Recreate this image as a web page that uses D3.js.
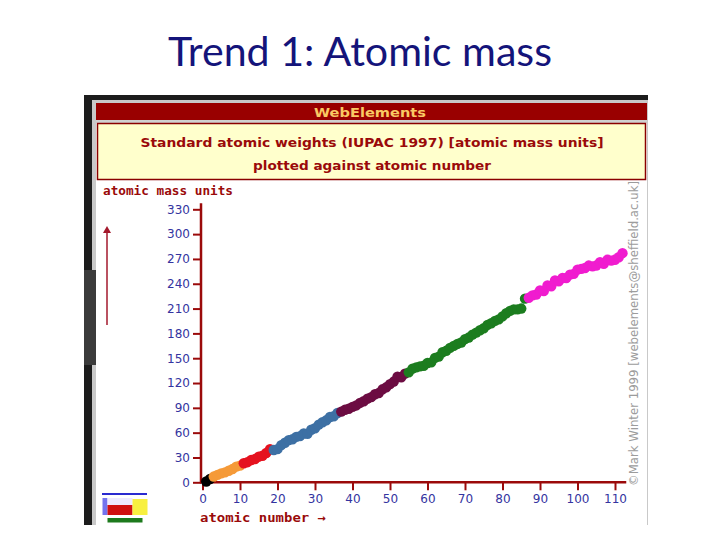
<!DOCTYPE html>
<html>
<head>
<meta charset="utf-8">
<script src="https://cdn.jsdelivr.net/npm/d3@7/dist/d3.min.js"></script>
<style>
  html, body { margin: 0; padding: 0; background: #ffffff; }
  svg { display: block; }
</style>
</head>
<body>
<svg id="chart" width="720" height="540"></svg>
<script>
// ---- Data ----
const slideTitle = "Trend 1: Atomic mass";
const headerText = "WebElements";
const subtitleLines = ["Standard atomic weights (IUPAC 1997) [atomic mass units]", "plotted against atomic number"];
const yLabel = "atomic mass units";
const xLabel = "atomic number \u2192";
const credit = "\u00A9Mark Winter 1999 [webelements@sheffield.ac.uk]";

// atomic weights for Z = 1 .. 112
const atomicWeights = [
  1.008, 4.003, 6.941, 9.012, 10.81, 12.01, 14.01, 16.00, 19.00, 20.18,
  22.99, 24.31, 26.98, 28.09, 30.97, 32.07, 35.45, 39.95, 39.10, 40.08,
  44.96, 47.87, 50.94, 52.00, 54.94, 55.85, 58.93, 58.69, 63.55, 65.39,
  69.72, 72.61, 74.92, 78.96, 79.90, 83.80, 85.47, 87.62, 88.91, 91.22,
  92.91, 95.94, 98, 101.07, 102.91, 106.42, 107.87, 112.41, 114.82, 118.71,
  121.76, 127.60, 126.90, 131.29, 132.91, 137.33, 138.91, 140.12, 140.91, 144.24,
  145, 150.36, 151.96, 157.25, 158.93, 162.50, 164.93, 167.26, 168.93, 173.04,
  174.97, 178.49, 180.95, 183.84, 186.21, 190.23, 192.22, 195.08, 196.97, 200.59,
  204.38, 207.2, 208.98, 209, 210, 222, 223, 226, 227, 232.04,
  231.04, 238.03, 237, 244, 243, 247, 247, 251, 252, 257,
  258, 259, 262, 261, 262, 266, 264, 269, 268, 269,
  272, 277
];
const periodStarts = [1, 3, 11, 19, 37, 55, 87];
const periodColors = ["#000000", "#f59a38", "#e5121f", "#3d70a4", "#6c0c42", "#1c7d1f", "#f01ccf"];
const xTicks = [0, 10, 20, 30, 40, 50, 60, 70, 80, 90, 100, 110];
const yTicks = [0, 30, 60, 90, 120, 150, 180, 210, 240, 270, 300, 330];

// ---- Drawing ----
const svg = d3.select("#chart");
const axisRed = "#9b0a0a";
const tickBlue = "#3434a0";

// slide title
svg.append("text")
  .attr("x", 360).attr("y", 66)
  .attr("text-anchor", "middle")
  .attr("font-family", "Lato, 'Open Sans', sans-serif")
  .attr("font-size", 41)
  .attr("fill", "#14147a")
  .attr("textLength", 384).attr("lengthAdjust", "spacingAndGlyphs")
  .text(slideTitle);

// screenshot frame
svg.append("rect").attr("x", 84).attr("y", 95).attr("width", 564).attr("height", 430).attr("fill", "#1c1c1c");
svg.append("rect").attr("x", 92).attr("y", 100).attr("width", 556).attr("height", 425).attr("fill", "#c9c9c9");
svg.append("rect").attr("x", 84).attr("y", 270).attr("width", 14).attr("height", 95).attr("fill", "#3b3b3b");
svg.append("rect").attr("x", 96).attr("y", 103).attr("width", 551).attr("height", 422).attr("fill", "#ffffff");

// red header
svg.append("rect").attr("x", 96).attr("y", 103).attr("width", 551).attr("height", 17).attr("fill", "#990000");
svg.append("rect").attr("x", 96).attr("y", 120).attr("width", 551).attr("height", 3).attr("fill", "#d0d0d0");
svg.append("text")
  .attr("x", 370).attr("y", 116.5)
  .attr("text-anchor", "middle")
  .attr("font-family", "'DejaVu Sans', sans-serif").attr("font-weight", "bold")
  .attr("font-size", 13).attr("fill", "#f9c964")
  .attr("textLength", 112).attr("lengthAdjust", "spacingAndGlyphs")
  .text(headerText);

// cream subtitle box
svg.append("rect").attr("x", 97.5).attr("y", 123.5).attr("width", 548).attr("height", 56)
  .attr("fill", "#ffffcc").attr("stroke", "#8a0000").attr("stroke-width", 1.5);
const subWidths = [463, 238];
subtitleLines.forEach((s, i) => {
  svg.append("text")
    .attr("x", 372).attr("y", 147 + i * 23)
    .attr("text-anchor", "middle")
    .attr("font-family", "'DejaVu Sans', sans-serif").attr("font-weight", "bold")
    .attr("font-size", 13).attr("fill", "#9a0a0a")
    .attr("textLength", subWidths[i]).attr("lengthAdjust", "spacingAndGlyphs")
    .text(s);
});

// scales
const x = d3.scaleLinear().domain([0, 110]).range([202.5, 615]);
const y = d3.scaleLinear().domain([0, 330]).range([482.3, 209.3]);

// y label
svg.append("text")
  .attr("x", 103).attr("y", 195)
  .attr("font-family", "'DejaVu Sans Mono', monospace").attr("font-weight", "bold")
  .attr("font-size", 12.5).attr("fill", "#9a0a0a")
  .attr("textLength", 130).attr("lengthAdjust", "spacingAndGlyphs")
  .text(yLabel);

// left arrow
svg.append("line").attr("x1", 107).attr("x2", 107).attr("y1", 231).attr("y2", 325)
  .attr("stroke", "#a3182c").attr("stroke-width", 1.5);
svg.append("path").attr("d", "M107,226 L103,233 L111,233 Z").attr("fill", "#a3182c");

// axes
const yAxis = d3.axisLeft(y).tickValues(yTicks).tickSize(8).tickPadding(3).tickSizeOuter(0);
const gy = svg.append("g").attr("transform", `translate(${x(0) - 1.5},0)`).call(yAxis);
gy.select(".domain").remove();
gy.selectAll(".tick line").attr("stroke", axisRed).attr("stroke-width", 2);
gy.selectAll(".tick text").attr("fill", tickBlue)
  .attr("font-family", "'DejaVu Sans', sans-serif").attr("font-size", 12);

const xAxis = d3.axisBottom(x).tickValues(xTicks).tickSize(8).tickPadding(4).tickSizeOuter(0);
const gx = svg.append("g").attr("transform", `translate(0,${y(0)})`).call(xAxis);
gx.select(".domain").remove();
gx.selectAll(".tick line").attr("stroke", axisRed).attr("stroke-width", 2);
gx.selectAll(".tick text").attr("fill", tickBlue)
  .attr("font-family", "'DejaVu Sans', sans-serif").attr("font-size", 12);

// axis lines
svg.append("line").attr("x1", x(0) - 1.5).attr("x2", x(0) - 1.5).attr("y1", y(330) - 6).attr("y2", y(0) + 1)
  .attr("stroke", axisRed).attr("stroke-width", 2.5);
svg.append("line").attr("x1", x(0) - 2.5).attr("x2", x(113)).attr("y1", y(0)).attr("y2", y(0))
  .attr("stroke", axisRed).attr("stroke-width", 2.5);

// x label
svg.append("text")
  .attr("x", 200).attr("y", 522)
  .attr("font-family", "'DejaVu Sans Mono', monospace").attr("font-weight", "bold")
  .attr("font-size", 12.5).attr("fill", "#9a0a0a")
  .attr("textLength", 126).attr("lengthAdjust", "spacingAndGlyphs")
  .text(xLabel);

// data
const pts = atomicWeights.map((w, i) => {
  const z = i + 1;
  let p = 0;
  periodStarts.forEach((s, k) => { if (z >= s) p = k; });
  return { z, w, c: periodColors[p] };
});
svg.append("path").datum(pts)
  .attr("d", d3.line().x(d => x(d.z)).y(d => y(d.w)))
  .attr("fill", "none").attr("stroke", "#3cc0c8").attr("stroke-width", 1);
svg.append("g").selectAll("circle").data(pts).join("circle")
  .attr("cx", d => x(d.z)).attr("cy", d => y(d.w)).attr("r", 5.2)
  .attr("fill", d => d.c);

// credit text
svg.append("text")
  .attr("transform", "translate(638,486) rotate(-90)")
  .attr("font-family", "'DejaVu Sans', sans-serif").attr("font-size", 12)
  .attr("fill", "#9c9c9c")
  .attr("textLength", 305).attr("lengthAdjust", "spacingAndGlyphs")
  .text(credit);

// periodic-table logo
svg.append("rect").attr("x", 102).attr("y", 493).attr("width", 45).attr("height", 2).attr("fill", "#2a2ad0");
svg.append("rect").attr("x", 102.5).attr("y", 498).attr("width", 5).attr("height", 17).attr("fill", "#7474ee");
svg.append("rect").attr("x", 107.5).attr("y", 498).attr("width", 25).attr("height", 7).attr("fill", "#eeeaff");
svg.append("rect").attr("x", 107.5).attr("y", 505).attr("width", 25).attr("height", 10).attr("fill", "#d01010");
svg.append("rect").attr("x", 132.5).attr("y", 499).attr("width", 15).attr("height", 16).attr("fill", "#f8f040");
svg.append("rect").attr("x", 107.5).attr("y", 518).attr("width", 35).attr("height", 4.5).attr("fill", "#1d7a1d");
</script>
</body>
</html>
